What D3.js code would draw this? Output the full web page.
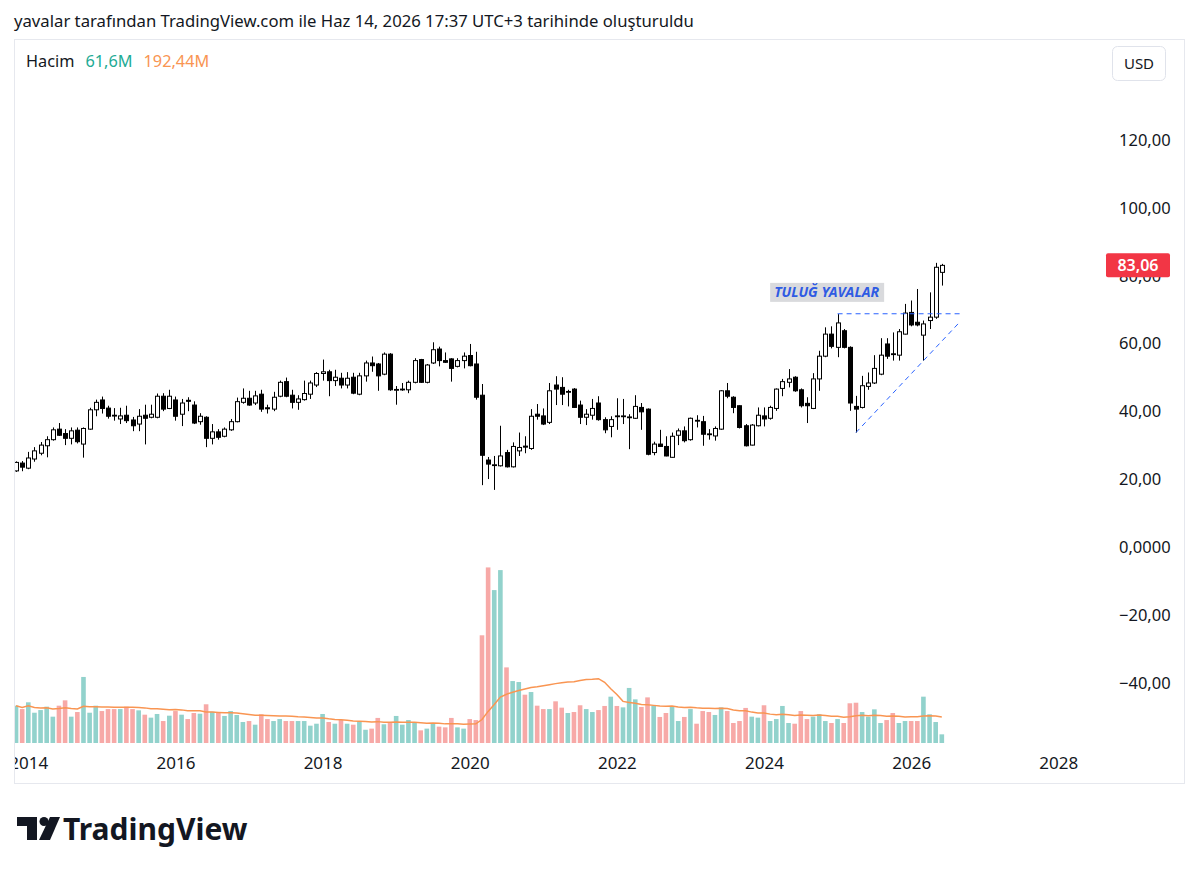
<!DOCTYPE html>
<html>
<head>
<meta charset="utf-8">
<script src="https://cdn.jsdelivr.net/npm/d3@7"></script>
<style>
  body { margin: 0; background: #fff; }
  svg text { font-family: "Noto Sans", sans-serif; fill: #131722; }
</style>
</head>
<body>
<svg id="chart"></svg>
<script>
// monthly bars, first one is Nov 2013
const firstBar = { year: 2013, month: 11 };

const opens = [22.5,24.8,23.3,26.0,27.7,29.9,31.7,34.8,33.5,32.1,34.5,30.4,34.8,40.5,43.4,41.0,38.9,37.8,38.9,37.5,
  36.3,38.9,38.3,38.3,44.5,40.9,43.4,39.2,43.3,41.9,37.0,38.3,32.1,34.0,32.7,34.6,37.0,42.7,43.9,42.5,
  45.1,41.1,40.7,44.5,48.8,44.8,42.7,43.5,45.1,47.8,51.2,51.7,49.1,49.8,47.8,50.1,45.1,50.5,54.3,54.0,
  51.0,56.9,46.3,46.4,46.4,48.6,55.3,48.6,54.3,58.4,55.0,55.5,53.3,55.0,56.5,54.0,44.8,25.7,24.1,24.0,
  27.9,23.7,28.4,29.8,29.1,39.2,38.7,36.8,47.8,47.1,45.7,46.6,41.9,38.3,38.9,42.5,37.6,35.6,38.7,38.5,
  38.2,38.0,41.2,40.7,27.9,30.4,29.7,26.5,33.0,34.3,31.7,37.4,37.0,33.4,32.8,34.8,46.1,44.2,41.7,35.8,
  30.1,35.8,38.7,38.0,40.9,46.8,48.6,50.1,46.4,42.4,40.9,49.6,56.3,62.8,58.9,63.8,58.9,41.5,41.2,47.4,
  48.4,51.0,59.9,57.0,56.6,62.8,69.2,66.3,62.5,66.8,67.8,81.0];
const highs = [25.3,25.4,28.1,29.5,31.0,32.7,35.3,36.6,34.8,35.3,35.3,35.3,41.1,43.5,44.4,41.7,41.0,41.1,41.7,38.4,
  40.7,42.0,42.0,45.3,45.4,46.4,44.4,43.7,44.2,43.0,39.5,38.6,36.3,34.8,35.3,37.8,44.1,46.8,46.1,46.1,
  46.4,42.0,45.8,49.1,50.0,46.4,44.8,49.1,49.1,51.6,55.3,52.3,52.3,51.4,51.6,51.4,51.4,55.0,56.2,54.3,
  57.4,57.2,47.5,48.4,49.1,55.7,55.5,54.0,60.4,59.1,57.4,55.7,55.7,57.4,59.9,57.6,48.1,26.6,26.9,35.8,
  28.7,30.9,33.8,32.7,40.7,42.2,40.9,48.4,50.4,50.1,46.4,46.9,43.2,40.7,43.7,44.5,38.3,38.6,43.9,43.7,
  39.2,44.8,42.5,40.9,31.1,34.6,32.7,33.8,35.0,35.6,38.2,38.9,38.7,34.8,35.6,46.3,48.4,44.5,41.8,36.3,
  36.3,41.2,41.2,41.7,46.8,49.6,52.5,50.4,46.8,44.2,51.3,57.9,64.8,65.1,68.7,64.3,59.2,44.6,50.5,51.5,
  56.6,61.6,61.6,63.3,64.3,71.7,72.7,76.1,66.8,75.1,83.8,83.5];
const lows = [22.2,22.4,23.0,25.2,27.1,26.5,31.4,32.8,30.1,30.3,30.6,26.4,34.6,38.6,39.4,37.9,37.3,36.3,36.6,34.2,
  34.2,30.3,38.0,38.0,40.1,40.7,37.3,35.7,40.1,36.3,36.1,29.5,30.3,31.7,32.4,34.3,36.8,42.3,41.7,41.9,
  39.9,39.4,40.1,44.2,44.2,40.9,40.5,43.2,43.7,47.2,49.1,44.5,47.5,46.8,46.8,45.1,44.8,48.8,51.7,46.1,
  50.7,46.1,42.0,46.1,45.4,48.3,48.4,48.3,54.0,53.3,54.3,48.8,53.0,52.7,53.3,43.5,18.3,20.1,16.9,23.8,
  23.5,23.5,26.9,27.7,28.7,37.6,36.0,36.3,41.9,41.9,41.5,41.1,36.3,36.0,37.6,37.3,33.6,32.4,34.6,36.3,
  28.9,37.8,34.6,27.1,27.1,29.6,26.8,26.4,30.1,30.9,31.4,35.3,29.9,31.7,31.4,34.6,43.9,39.5,35.0,29.7,
  30.0,35.6,35.6,37.6,40.2,44.5,47.1,45.8,41.2,36.6,40.7,46.1,56.0,58.6,56.0,58.6,40.2,33.8,40.9,46.4,
  48.1,50.7,55.5,55.0,55.0,62.7,65.1,65.1,55.0,64.3,67.3,77.1];
const closes = [25.0,23.6,26.3,28.4,30.1,31.7,34.6,33.0,32.1,34.3,31.1,35.0,40.5,42.7,40.9,38.6,38.7,38.7,37.3,35.8,
  38.6,38.0,39.2,44.5,40.7,44.5,38.6,42.5,43.0,36.6,38.6,32.1,34.0,32.4,34.8,37.0,42.9,43.9,41.9,44.6,
  40.7,40.8,44.2,48.6,44.5,42.7,43.7,45.3,48.4,51.2,51.7,49.1,50.1,47.8,49.8,45.4,50.5,54.3,53.5,50.5,
  56.9,46.4,46.5,46.6,48.6,55.0,48.6,53.7,58.2,55.0,54.5,52.7,55.0,56.3,53.5,44.2,27.1,24.5,24.3,26.9,
  23.7,29.7,29.4,29.5,38.6,38.6,36.3,46.1,46.6,45.1,45.9,41.2,38.3,39.2,40.9,37.6,34.6,37.6,38.5,38.7,
  38.4,41.5,39.9,27.4,30.4,29.7,26.9,32.7,34.3,31.4,38.0,37.2,33.3,33.2,35.0,46.1,44.5,41.2,35.3,29.9,
  36.0,38.9,37.8,41.2,46.6,48.8,49.6,46.1,41.7,41.7,49.6,56.3,62.8,59.2,66.1,58.9,42.5,40.7,47.6,48.4,
  52.7,56.6,56.3,56.8,63.5,69.0,65.5,65.5,65.8,67.8,82.5,83.06];
// volume in millions
const volumes = [265,241,289,215,234,258,187,265,303,187,220,469,215,265,227,241,241,241,258,241,
  232,201,180,206,156,194,227,201,170,213,208,275,222,215,192,227,199,149,156,130,
  204,170,156,170,156,156,156,156,123,137,206,149,137,163,137,130,156,94,102,178,
  133,147,192,130,163,147,90,102,140,116,111,178,111,102,170,163,765,1247,1086,1228,
  537,440,433,343,362,265,241,241,296,251,213,220,268,241,220,234,263,329,263,253,
  391,310,256,324,265,185,213,256,156,185,241,137,227,220,199,253,227,142,156,249,
  187,180,268,156,170,263,142,137,227,170,187,204,156,142,170,142,282,286,220,187,
  239,142,163,213,142,156,156,156,329,204,149,61.6];

const yearTicks = [2014, 2016, 2018, 2020, 2022, 2024, 2026, 2028];
const priceTicks = [-40, -20, 0, 20, 40, 60, 80, 100, 120];
const maLength = 20;

// drawings on the chart: resistance line, rising support line, signature
const resistance = { from: 134, to: 154, price: 68.8 };
const support = { from: 137, fromPrice: 33.8, to: 154, toPrice: 66.5 };
const signature = { text: "TULUĞ YAVALAR", bar: 123, price: 72.3 };

const header = "yavalar tarafından TradingView.com ile Haz 14, 2026 17:37 UTC+3 tarihinde oluşturuldu";
const legend = { name: "Hacim", volume: "61,6M", average: "192,44M" };

class CandleChart {

  constructor(_config) {
    this.config = {
      parentElement: _config.parentElement,
      containerWidth: 1199,
      containerHeight: 871,
      frame: { left: 14.5, top: 39.5, right: 1184.5, bottom: 783.5 },
      plotRight: 1100,
      upColor: 'rgba(38,166,154,0.5)',
      downColor: 'rgba(239,83,80,0.5)',
      maColor: '#f99552',
      drawColor: '#2962ff'
    };
    this.initVis();
  }

  initVis() {
    let vis = this;
    const f = vis.config.frame;

    vis.svg = d3.select(vis.config.parentElement)
      .attr('width', vis.config.containerWidth)
      .attr('height', vis.config.containerHeight);

    vis.svg.append('rect')
      .attr('width', vis.config.containerWidth)
      .attr('height', vis.config.containerHeight)
      .attr('fill', '#fff');

    vis.svg.append('text')
      .attr('x', 14)
      .attr('y', 27)
      .style('font-size', '16.7px')
      .text(header);

    vis.svg.append('rect')
      .attr('x', f.left).attr('y', f.top)
      .attr('width', f.right - f.left).attr('height', f.bottom - f.top)
      .attr('fill', 'none')
      .attr('stroke', '#e6e8ee');

    // month index, 0 = Jan 2014
    vis.xScale = d3.scaleLinear().domain([0, 168]).range([28.3, 1058.3]);
    vis.yScale = d3.scaleLinear().domain([-40, 120]).range([683, 140]);
    vis.volScale = d3.scaleLinear().domain([0, 1250]).range([743, 567]);

    vis.svg.append('clipPath').attr('id', 'plot-clip')
      .append('rect')
      .attr('x', f.left + 0.5).attr('y', f.top + 0.5)
      .attr('width', vis.config.plotRight - f.left).attr('height', f.bottom - f.top - 1);

    vis.chart = vis.svg.append('g').attr('clip-path', 'url(#plot-clip)');
    vis.volumeG = vis.chart.append('g');
    vis.maPath = vis.chart.append('path');
    vis.candleG = vis.chart.append('g');
    vis.drawG = vis.chart.append('g');

    vis.xAxisG = vis.chart.append('g')
      .attr('class', 'axis x-axis')
      .attr('transform', 'translate(0,764)');
    vis.yAxisG = vis.svg.append('g')
      .attr('class', 'axis y-axis')
      .attr('transform', 'translate(1119,0)');

    vis.xAxis = d3.axisBottom(vis.xScale)
      .tickValues(yearTicks.map(y => (y - 2014) * 12))
      .tickFormat(m => 2014 + m / 12)
      .tickSize(0);

    vis.yAxis = d3.axisRight(vis.yScale)
      .tickValues(priceTicks)
      .tickFormat(vis.formatPrice)
      .tickSize(0);

    // legend
    const lg = vis.svg.append('text').attr('x', 26).attr('y', 67).style('font-size', '16.3px');
    lg.append('tspan').text(legend.name);
    lg.append('tspan').attr('dx', 11).style('fill', '#22ab94').text(legend.volume);
    lg.append('tspan').attr('dx', 11).style('fill', vis.config.maColor).text(legend.average);

    // currency button
    vis.svg.append('rect')
      .attr('x', 1112.5).attr('y', 46.5).attr('width', 53).attr('height', 34).attr('rx', 5)
      .attr('fill', '#fff').attr('stroke', '#e0e3eb');
    vis.svg.append('text')
      .attr('x', 1139).attr('y', 69)
      .attr('text-anchor', 'middle')
      .style('font-size', '15px')
      .text('USD');
  }

  formatPrice(v) {
    if (v === 0) return '0,0000';
    return (v < 0 ? '−' : '') + Math.abs(v).toFixed(2).replace('.', ',');
  }

  updateVis() {
    let vis = this;
    const start = (firstBar.year - 2014) * 12 + firstBar.month - 1;
    vis.data = opens.map((o, i) => ({
      i: i,
      m: start + i,
      open: o,
      high: highs[i],
      low: lows[i],
      close: closes[i],
      volume: volumes[i]
    }));
    // simple moving average of volume
    vis.data.forEach((d, i) => {
      const win = vis.data.slice(Math.max(0, i - maLength + 1), i + 1);
      d.ma = d3.mean(win, k => k.volume);
    });
    vis.renderVis();
  }

  renderVis() {
    let vis = this;
    const px = d => Math.round(vis.xScale(d.m));
    const barX = i => vis.xScale((firstBar.year - 2014) * 12 + firstBar.month - 1 + i);

    vis.volumeG.selectAll('.vol')
      .data(vis.data)
      .join('rect')
      .attr('class', 'vol')
      .attr('x', d => vis.xScale(d.m) - 2.3)
      .attr('width', 4.6)
      .attr('y', d => vis.volScale(d.volume))
      .attr('height', d => vis.volScale(0) - vis.volScale(d.volume))
      .attr('fill', d => d.close >= d.open ? vis.config.upColor : vis.config.downColor);

    vis.maPath
      .datum(vis.data)
      .attr('fill', 'none')
      .attr('stroke', vis.config.maColor)
      .attr('stroke-width', 1.5)
      .attr('d', d3.line().x(d => vis.xScale(d.m)).y(d => vis.volScale(d.ma)));

    const candles = vis.candleG.selectAll('.candle')
      .data(vis.data)
      .join('g')
      .attr('class', 'candle');

    candles.append('line')
      .attr('x1', d => px(d) + 0.5).attr('x2', d => px(d) + 0.5)
      .attr('y1', d => vis.yScale(d.high))
      .attr('y2', d => vis.yScale(d.low))
      .attr('stroke', '#000');

    candles.append('rect')
      .attr('x', d => px(d) - 1.5)
      .attr('width', 4)
      .attr('y', d => vis.yScale(Math.max(d.open, d.close)))
      .attr('height', d => Math.max(0.8, Math.abs(vis.yScale(d.open) - vis.yScale(d.close))))
      .attr('fill', d => d.close >= d.open ? '#fff' : '#000')
      .attr('stroke', '#000');

    // trend drawings
    vis.drawG.append('line')
      .attr('x1', barX(resistance.from)).attr('x2', barX(resistance.to))
      .attr('y1', vis.yScale(resistance.price)).attr('y2', vis.yScale(resistance.price))
      .attr('stroke', vis.config.drawColor)
      .attr('stroke-dasharray', '5 4');
    vis.drawG.append('line')
      .attr('x1', barX(support.from)).attr('x2', barX(support.to))
      .attr('y1', vis.yScale(support.fromPrice)).attr('y2', vis.yScale(support.toPrice))
      .attr('stroke', vis.config.drawColor)
      .attr('stroke-dasharray', '5 4');

    const sx = barX(signature.bar);
    const sy = vis.yScale(signature.price);
    const sig = vis.drawG.append('text')
      .attr('x', sx + 4).attr('y', sy - 5)
      .style('font-size', '14px')
      .style('font-style', 'italic')
      .style('font-weight', '700')
      .style('fill', '#2f5be3')
      .text(signature.text);
    const w = sig.node().getComputedTextLength();
    vis.drawG.insert('rect', 'text')
      .attr('x', sx).attr('y', sy - 19)
      .attr('width', w + 9).attr('height', 19)
      .attr('fill', '#d9dadd');

    vis.xAxisG.call(vis.xAxis)
      .call(g => g.select('.domain').remove())
      .call(g => g.selectAll('text')
        .attr('dy', '0.32em').attr('y', 0)
        .attr('font-family', null)
        .style('font-size', '17px').style('fill', '#131722'));

    vis.yAxisG.call(vis.yAxis)
      .call(g => g.select('.domain').remove())
      .call(g => g.selectAll('text')
        .attr('x', 0)
        .style('font-size', '16.5px').style('fill', '#131722')
        .attr('font-family', null));

    // last price label
    const last = vis.data[vis.data.length - 1];
    const ly = vis.yScale(last.close);
    vis.svg.append('rect')
      .attr('x', 1106).attr('y', ly - 12).attr('width', 64).attr('height', 24).attr('rx', 2)
      .attr('fill', '#f23645');
    vis.svg.append('text')
      .attr('x', 1138).attr('y', ly).attr('dy', '0.35em')
      .attr('text-anchor', 'middle')
      .style('font-size', '16px').style('font-weight', '600').style('fill', '#fff')
      .text(vis.formatPrice(last.close));

    // footer logo
    const logo = vis.svg.append('g').attr('transform', 'translate(17,817)').attr('fill', '#131722');
    logo.append('path').attr('d', 'M0,0 H20 V23 H10 V9 H0 Z');
    logo.append('circle').attr('cx', 27).attr('cy', 4.5).attr('r', 4.5);
    logo.append('path').attr('d', 'M33,0 H43 L33,23 H22 Z');
    vis.svg.append('text')
      .attr('x', 63).attr('y', 840)
      .style('font-size', '30px').style('font-weight', '700')
      .text('TradingView');
  }
}

const chart = new CandleChart({ parentElement: '#chart' });
chart.updateVis();
</script>
</body>
</html>
